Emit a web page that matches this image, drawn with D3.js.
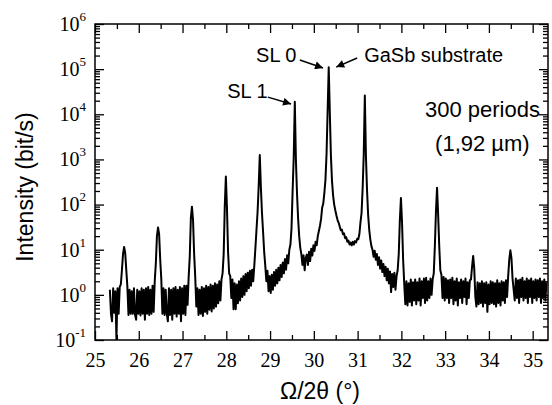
<!DOCTYPE html>
<html>
<head>
<meta charset="utf-8">
<script src="https://cdn.jsdelivr.net/npm/d3@7"></script>
<style>
  body { margin: 0; background: #fff; }
</style>
</head>
<body>
<div id="chart"></div>
<script>
const layout = {
    width: 552,
    height: 405,
    left: 95,
    right: 548,
    top: 24,
    bottom: 340
};

// scan grid (start, step) and measured counts, one value per step
const scanStart = 25.34;
const scanStep = 0.025;
const scanCounts = [
    1.3, 0.38, 0.26, 1.4, 0.4, 1.2, 0.1, 1.4, 0.38, 1.5,      // 25.34
    1.7, 3.5, 8, 11.5, 8.5, 3.5, 1.5, 0.36, 1.3, 0.38,        // 25.59
    1.2, 0.38, 1.4, 0.36, 0.28, 1.3, 0.38, 1.2, 0.35, 1.4,    // 25.84
    0.38, 1.3, 0.28, 1.4, 0.38, 1.5, 0.36, 1.3, 0.38, 1.6,    // 26.09
    0.42, 2.0, 5, 20, 31, 22, 6, 2.2, 0.38, 1.4,              // 26.34
    0.36, 1.3, 0.38, 0.26, 1.4, 0.36, 1.3, 0.28, 1.4, 0.38,   // 26.59
    1.5, 0.33, 1.3, 0.38, 1.5, 0.26, 1.4, 0.38, 1.6, 0.36,    // 26.84
    1.6, 0.6, 2.5, 7, 50, 90, 45, 8, 2.5, 0.55,               // 27.09
    1.4, 0.36, 1.3, 0.38, 1.5, 0.34, 1.4, 0.42, 1.6, 0.38,    // 27.34
    1.5, 0.47, 1.7, 0.43, 1.6, 0.5, 1.8, 0.55, 1.7, 0.65,     // 27.59
    2.0, 0.75, 2.2, 3, 8, 90, 420, 85, 9, 3,                  // 27.84
    2.6, 0.85, 2.2, 0.48, 1.8, 0.48, 1.7, 0.65, 2.0, 0.75,    // 28.09
    2.3, 0.9, 2.6, 1.0, 2.9, 1.2, 3.1, 1.4, 3.4, 1.6,         // 28.34
    3.6, 2.0, 4.5, 11, 28, 70, 260, 1250, 240, 65,            // 28.59
    25, 9, 4.5, 2.0, 3.4, 1.2, 2.6, 1.1, 2.8, 1.3,            // 28.84
    3.2, 1.6, 3.6, 1.8, 4.0, 2.1, 4.6, 2.5, 5.2, 3.0,         // 29.09
    6.2, 3.6, 7.5, 5.0, 10, 13, 30, 200, 1100, 19000,         // 29.34
    1000, 180, 50, 20, 11, 8, 4.6, 7.5, 3.5, 6.5,             // 29.59
    7.8, 4.6, 9, 5.6, 10.5, 7.4, 12.5, 9.4, 15, 12.5,         // 29.84
    20, 26, 34, 48, 85, 105, 180, 350, 1300, 12000,           // 30.09
    110000, 11000, 1200, 330, 160, 100, 75, 58, 46, 40,       // 30.34
    33, 27, 28, 22, 23, 18, 19, 15, 16, 13,                   // 30.59
    14.5, 12.5, 15, 13, 15.5, 14.5, 17.5, 17, 22, 40,         // 30.84
    65, 230, 1300, 26000, 1200, 210, 60, 28, 17, 12,          // 31.09
    10, 7.0, 9.5, 6.0, 8, 4.6, 6.8, 3.8, 5.8, 3.2,            // 31.34
    4.8, 2.6, 4.2, 2.1, 3.8, 1.8, 3.3, 1.15, 2.9, 1.5,        // 31.59
    3.1, 1.3, 2.6, 3.5, 8, 45, 140, 40, 6, 1.8,               // 31.84
    0.62, 2.0, 0.58, 1.8, 0.7, 2.2, 0.58, 1.9, 0.75, 2.2,     // 32.09
    0.62, 1.9, 0.75, 2.3, 0.58, 2.0, 0.85, 2.3, 0.66, 2.4,    // 32.34
    0.75, 2.0, 0.85, 2.3, 1.0, 2.2, 3, 12, 70, 235,           // 32.59
    60, 12, 3.5, 2.8, 0.85, 2.5, 0.75, 2.3, 0.85, 2.1,        // 32.84
    0.66, 2.2, 0.85, 2.4, 0.62, 2.0, 0.75, 2.3, 0.58, 1.9,    // 33.09
    0.85, 2.2, 0.66, 2.0, 0.9, 2.3, 0.62, 1.9, 0.85, 2.1,     // 33.34
    2.2, 4.2, 7.3, 3.8, 0.9, 0.55, 1.9, 0.62, 1.8, 0.66,      // 33.59
    2.0, 0.55, 1.8, 0.66, 1.9, 0.42, 1.7, 0.62, 2.0, 0.66,    // 33.84
    1.9, 0.62, 1.8, 0.55, 2.1, 0.66, 1.8, 0.58, 2.0, 0.75,    // 34.09
    1.9, 0.66, 2.1, 0.9, 2.6, 6, 9.7, 6.5, 2.3, 1.3,          // 34.34
    0.75, 2.3, 0.85, 2.1, 0.66, 2.2, 0.9, 2.4, 0.75, 2.0,     // 34.59
    0.85, 2.3, 0.66, 2.1, 0.9, 2.3, 0.66, 2.0, 0.85, 2.2,     // 34.84
    0.75, 2.1, 0.9, 2.3, 0.66, 2.0, 0.85, 2.2, 0.75, 1.9      // 35.09
];

const xMajorTicks = [25, 26, 27, 28, 29, 30, 31, 32, 33, 34, 35];
const xMinorTicks = [25.5, 26.5, 27.5, 28.5, 29.5, 30.5, 31.5, 32.5, 33.5, 34.5];
const yDecades = [1e-1, 1e0, 1e1, 1e2, 1e3, 1e4, 1e5, 1e6];

// annotation texts and their anchor points in data units (theta, counts)
const noteTexts = ["SL 0", "GaSb substrate", "SL 1", "300 periods", "(1,92 µm)"];
const noteTheta = [28.68, 31.15, 28.02, 32.54, 32.77];
const noteCounts = [1.44e5, 1.44e5, 2.3e4, 8.5e3, 1.54e3];
const noteSizes = [20, 20, 20, 22, 22];

// arrows: tail -> tip, in data units
const arrowTailTheta = [29.68, 30.99, 28.95];
const arrowTailCounts = [1.6e5, 1.77e5, 2.4e4];
const arrowTipTheta = [30.21, 30.51, 29.48];
const arrowTipCounts = [1.06e5, 1.11e5, 1.69e4];

const serif = '"Liberation Serif", "Times New Roman", serif';
const sans = '"Liberation Sans", Arial, sans-serif';

const svg = d3.select("#chart").append("svg")
    .attr("width", layout.width)
    .attr("height", layout.height)
    .attr("viewBox", [0, 0, layout.width, layout.height].join(" "));

const x = d3.scaleLinear()
    .domain([25, 35.35])
    .range([layout.left, layout.right]);
const y = d3.scaleLog()
    .domain([1e-1, 1e6])
    .range([layout.bottom, layout.top]);

// clip for the trace
svg.append("clipPath").attr("id", "plot-clip")
    .append("rect")
    .attr("x", layout.left).attr("y", layout.top)
    .attr("width", layout.right - layout.left)
    .attr("height", layout.bottom - layout.top);

// the scan
svg.append("path")
    .datum(scanCounts)
    .attr("clip-path", "url(#plot-clip)")
    .attr("fill", "none")
    .attr("stroke", "#000")
    .attr("stroke-width", 2)
    .attr("stroke-linejoin", "round")
    .attr("d", d3.line()
        .x((d, i) => x(scanStart + i * scanStep))
        .y(d => y(d)));

function styleAxis(g) {
    g.select(".domain").remove();
    g.attr("font-family", null);
    g.selectAll("line").attr("stroke", "#000").attr("stroke-width", 1.3);
}

// bottom axis
svg.append("g")
    .attr("transform", `translate(0,${layout.bottom})`)
    .call(d3.axisBottom(x).tickValues(xMajorTicks).tickSizeInner(-9).tickSizeOuter(0)
        .tickPadding(13).tickFormat(d3.format("d")))
    .call(styleAxis)
    .call(g => g.selectAll("text")
        .style("font-family", serif).style("font-size", "20px").attr("fill", "#000"));
svg.append("g")
    .attr("transform", `translate(0,${layout.bottom})`)
    .call(d3.axisBottom(x).tickValues(xMinorTicks).tickSizeInner(-5).tickSizeOuter(0).tickFormat(""))
    .call(styleAxis);

// top axis (ticks only)
svg.append("g")
    .attr("transform", `translate(0,${layout.top})`)
    .call(d3.axisTop(x).tickValues(xMajorTicks).tickSizeInner(-9).tickSizeOuter(0).tickFormat(""))
    .call(styleAxis);
svg.append("g")
    .attr("transform", `translate(0,${layout.top})`)
    .call(d3.axisTop(x).tickValues(xMinorTicks).tickSizeInner(-5).tickSizeOuter(0).tickFormat(""))
    .call(styleAxis);

// log minor ticks (2..9 in each decade)
const yMinor = y.ticks().filter(v => yDecades.indexOf(v) < 0 && v < 1e6);

// left axis
let yAxisLeft = svg.append("g")
    .attr("transform", `translate(${layout.left},0)`)
    .call(d3.axisLeft(y).tickValues(yDecades).tickSizeInner(-9).tickSizeOuter(0).tickPadding(9))
    .call(styleAxis);
yAxisLeft.selectAll("text")
    .style("font-family", serif).style("font-size", "20px").attr("fill", "#000")
    .each(function(d) {
        const t = d3.select(this);
        t.text("");
        t.append("tspan").text("10");
        t.append("tspan").style("font-size", "13px").attr("dy", -10)
            .text(Math.round(Math.log10(d)));
    });
svg.append("g")
    .attr("transform", `translate(${layout.left},0)`)
    .call(d3.axisLeft(y).tickValues(yMinor).tickSizeInner(-5).tickSizeOuter(0).tickFormat(""))
    .call(styleAxis);

// right axis (ticks only)
svg.append("g")
    .attr("transform", `translate(${layout.right},0)`)
    .call(d3.axisRight(y).tickValues(yDecades).tickSizeInner(-9).tickSizeOuter(0).tickFormat(""))
    .call(styleAxis);
svg.append("g")
    .attr("transform", `translate(${layout.right},0)`)
    .call(d3.axisRight(y).tickValues(yMinor).tickSizeInner(-5).tickSizeOuter(0).tickFormat(""))
    .call(styleAxis);

// frame
svg.append("rect")
    .attr("x", layout.left).attr("y", layout.top)
    .attr("width", layout.right - layout.left)
    .attr("height", layout.bottom - layout.top)
    .attr("fill", "none")
    .attr("stroke", "#000")
    .attr("stroke-width", 1.5);

// axis titles
svg.append("text")
    .attr("transform", `translate(33,${(layout.top + layout.bottom) / 2 + 5}) rotate(-90)`)
    .attr("text-anchor", "middle")
    .style("font-family", sans).style("font-size", "23px")
    .text("Intensity (bit/s)");
svg.append("text")
    .attr("x", 320).attr("y", 399)
    .attr("text-anchor", "middle")
    .style("font-family", sans).style("font-size", "23px")
    .text("Ω/2θ (°)");

// annotations
svg.selectAll(".note")
    .data(noteTexts)
    .join("text")
    .attr("class", "note")
    .attr("x", (d, i) => x(noteTheta[i]))
    .attr("y", (d, i) => y(noteCounts[i]))
    .style("font-family", sans)
    .style("font-size", (d, i) => noteSizes[i] + "px")
    .text(d => d);

svg.append("defs").append("marker")
    .attr("id", "arrow-head")
    .attr("markerUnits", "userSpaceOnUse")
    .attr("viewBox", "0 0 10 10")
    .attr("refX", 10).attr("refY", 5)
    .attr("markerWidth", 10).attr("markerHeight", 8)
    .attr("orient", "auto")
    .append("path")
    .attr("d", "M0,0 L10,5 L0,10 Z")
    .attr("fill", "#000");

svg.selectAll(".arrow")
    .data(arrowTailTheta)
    .join("line")
    .attr("class", "arrow")
    .attr("x1", (d, i) => x(arrowTailTheta[i]))
    .attr("y1", (d, i) => y(arrowTailCounts[i]))
    .attr("x2", (d, i) => x(arrowTipTheta[i]))
    .attr("y2", (d, i) => y(arrowTipCounts[i]))
    .attr("stroke", "#000")
    .attr("stroke-width", 1.5)
    .attr("marker-end", "url(#arrow-head)");
</script>
</body>
</html>
